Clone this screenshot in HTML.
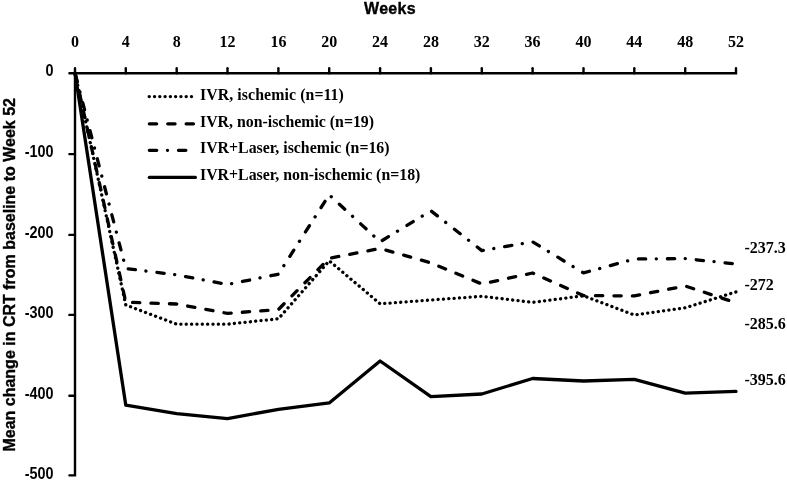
<!DOCTYPE html>
<html><head><meta charset="utf-8"><style>
html,body{margin:0;padding:0;background:#fff;}
body{width:787px;height:481px;overflow:hidden;position:relative;}
svg{position:absolute;left:0;top:0;will-change:transform;}
.s{font-family:"Liberation Serif",serif;font-weight:bold;}
.ss{font-family:"Liberation Sans",sans-serif;font-weight:bold;}
</style></head><body>
<svg width="787" height="481" viewBox="0 0 787 481">
<rect width="787" height="481" fill="#fff"/>
<!-- axes -->
<g stroke="#000" stroke-width="2.4" fill="none" stroke-linecap="round">
<path d="M69.4 73.3 H736 V68.2"/>
<path d="M75 68.2 V475.35 H69.4"/>
<path d="M125.8 73.3 V68.2"/>
<path d="M176.7 73.3 V68.2"/>
<path d="M227.5 73.3 V68.2"/>
<path d="M278.4 73.3 V68.2"/>
<path d="M329.2 73.3 V68.2"/>
<path d="M380.1 73.3 V68.2"/>
<path d="M430.9 73.3 V68.2"/>
<path d="M481.8 73.3 V68.2"/>
<path d="M532.6 73.3 V68.2"/>
<path d="M583.5 73.3 V68.2"/>
<path d="M634.3 73.3 V68.2"/>
<path d="M685.2 73.3 V68.2"/>
<path d="M69.4 154.1 H75"/>
<path d="M69.4 234.9 H75"/>
<path d="M69.4 314.9 H75"/>
<path d="M69.4 395.7 H75"/>
</g>
<g fill="none" stroke="#000" stroke-width="3.3" stroke-linejoin="round">
<polyline points="75.0,73.0 125.8,405.2 176.7,413.6 227.5,418.6 278.4,409.3 329.2,402.9 380.1,361.0 430.9,396.6 481.8,394.0 532.6,378.5 583.5,381.0 634.3,379.3 685.2,393.2 736.0,391.4" stroke-linecap="round"/>
<polyline points="75.0,73.0 125.8,302.2 176.7,304.0 227.5,313.4 278.4,309.5 329.2,258.3 380.1,248.5 430.9,262.9 481.8,284.0 532.6,273.0 583.5,295.6 634.3,295.9 685.2,286.0 736.0,302.8" stroke-linecap="round" stroke-dasharray="7.3 11.16" stroke-dashoffset="-1.5"/>
<polyline points="75.0,73.0 125.8,268.5 176.7,274.9 227.5,284.5 278.4,274.2 329.2,194.8 380.1,241.8 430.9,210.8 481.8,250.6 532.6,241.8 583.5,272.9 634.3,259.0 685.2,258.6 736.0,264.0" stroke-linecap="round" stroke-dasharray="7.3 10.55 0.1 11.01" stroke-dashoffset="-1.7"/>
<polyline points="75.0,73.0 125.8,305.0 176.7,324.2 227.5,324.2 278.4,318.8 329.2,260.8 380.1,303.8 430.9,300.0 481.8,296.3 532.6,302.4 583.5,295.8 634.3,315.0 685.2,307.8 736.0,291.9" stroke-linecap="round" stroke-dasharray="0.1 5.252" stroke-dashoffset="-1.69"/>
</g>
<g fill="none" stroke="#000" stroke-width="3.3" stroke-linecap="round">
<path d="M149.2 96.6 H191.6" stroke-dasharray="0.1 5.18"/>
<path d="M149.35 123.8 H193.85" stroke-dasharray="7.3 11.1"/>
<path d="M149.35 150.3 H185.95" stroke-dasharray="7.4 10.7 0.1 10.9"/>
<path d="M149.35 177.4 H195.35"/>
</g>
<g class="s" font-size="15.85" fill="#000">
<text x="200" y="99.8" letter-spacing="0.08">IVR, ischemic (n=11)</text>
<text x="200" y="127.0">IVR, non-ischemic (n=19)</text>
<text x="200" y="153.4">IVR+Laser, ischemic (n=16)</text>
<text x="200" y="180.0">IVR+Laser, non-ischemic (n=18)</text>
</g>
<g class="s" font-size="16" fill="#000" text-anchor="middle">
<text x="75.0" y="46.8">0</text>
<text x="125.8" y="46.8">4</text>
<text x="176.7" y="46.8">8</text>
<text x="227.5" y="46.8">12</text>
<text x="278.4" y="46.8">16</text>
<text x="329.2" y="46.8">20</text>
<text x="380.1" y="46.8">24</text>
<text x="430.9" y="46.8">28</text>
<text x="481.8" y="46.8">32</text>
<text x="532.6" y="46.8">36</text>
<text x="583.5" y="46.8">40</text>
<text x="634.3" y="46.8">44</text>
<text x="685.2" y="46.8">48</text>
<text x="736.0" y="46.8">52</text>
</g>
<g class="ss" font-size="15.5" fill="#000" text-anchor="end">
<text transform="translate(53.5 76.4) scale(0.93 1.1)">0</text>
<text transform="translate(53.5 157.2) scale(0.93 1.1)">-100</text>
<text transform="translate(53.5 238.0) scale(0.93 1.1)">-200</text>
<text transform="translate(53.5 318.0) scale(0.93 1.1)">-300</text>
<text transform="translate(53.5 398.8) scale(0.93 1.1)">-400</text>
<text transform="translate(53.5 478.5) scale(0.93 1.1)">-500</text>
</g>
<g class="s" font-size="16" fill="#000">
<text x="744.5" y="253.1">-237.3</text>
<text x="744.5" y="289.9">-272</text>
<text x="744.5" y="328.6">-285.6</text>
<text x="744.5" y="384.8">-395.6</text>
</g>
<text class="ss" font-size="16" x="390" y="13.7" text-anchor="middle" stroke="#000" stroke-width="0.35" letter-spacing="0.3">Weeks</text>
<text class="ss" font-size="16" transform="translate(14.8,274.8) rotate(-90)" text-anchor="middle" stroke="#000" stroke-width="0.35">Mean change in CRT from baseline to Week 52</text>
</svg>
</body></html>
